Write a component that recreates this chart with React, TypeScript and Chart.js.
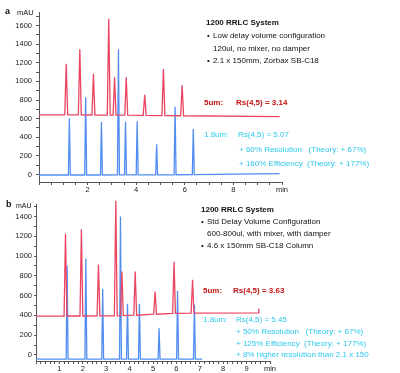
import React, { useEffect, useRef } from "react";
import { Chart, registerables } from "chart.js";
Chart.register(...registerables);

// ---------- Panel a data (1200 RRLC, low delay volume) ----------
const aRedTimes = [1.12, 1.68, 2.24, 2.87, 3.11, 3.59, 4.35, 5.12, 5.89];
const aRedHeights = [1190, 1345, 1083, 1673, 1044, 1047, 857, 1133, 961];
const aRedBases = [640, 640, 639, 638, 638, 637, 635, 633, 631];
const aRedSpan = [0, 9.9];
const aRedEnds = [640, 622];
const aRedTail: number[] = [];

const aBlueTimes = [1.25, 1.92, 2.57, 3.27, 3.56, 4.04, 4.84, 5.6, 6.35];
const aBlueHeights = [603, 829, 564, 1345, 567, 571, 324, 728, 489];
const aBlueBases = [-5, -5, -5, -4, -4, -4, -3, -2, -1];
const aBlueSpan = [0, 9.9];
const aBlueEnds = [-5, 10];
const aBlueTail: number[] = [];

const aXLabelValues = [2, 4, 6, 8, 10];
const aXLabels = ["2", "4", "6", "8", "min"];
const aYLabelValues = [0, 200, 400, 600, 800, 1000, 1200, 1400, 1600];

// ---------- Panel b data (1200 RRLC, std delay volume) ----------
const bRedTimes = [1.26, 1.94, 2.67, 3.41, 3.67, 4.24, 5.09, 5.9, 6.69];
const bRedHeights = [1227, 1271, 914, 1560, 843, 843, 642, 942, 761];
const bRedBases = [394, 394, 395, 396, 398, 402, 412, 420, 424];
const bRedSpan = [0, 9.5];
const bRedEnds = [392, 426];
const bRedTail = [9.52, 470];

const bBlueTimes = [1.33, 2.13, 2.85, 3.61, 3.91, 4.42, 5.26, 6.05, 6.77];
const bBlueHeights = [904, 972, 670, 1400, 517, 517, 269, 650, 507];
const bBlueBases = [-42, -42, -42, -42, -42, -42, -42, -42, -42];
const bBlueSpan = [0, 7.1];
const bBlueEnds = [-42, -42];
const bBlueTail: number[] = [];

const bXLabelValues = [1, 2, 3, 4, 5, 6, 7, 8, 9, 10];
const bXLabels = ["1", "2", "3", "4", "5", "6", "7", "8", "9", "min"];
const bYLabelValues = [0, 200, 400, 600, 800, 1000, 1200, 1400];

const RED = "rgb(234,70,98)";
const BLUE = "rgb(82,142,242)";
const FONT = "'Liberation Sans', Arial, sans-serif";

function buildTrace(
  times: number[],
  heights: number[],
  bases: number[],
  span: number[],
  ends: number[],
  tail: number[],
  hw: number
) {
  const pts: { x: number; y: number }[] = [{ x: span[0], y: ends[0] }];
  times.forEach((t, i) => {
    pts.push({ x: t - hw, y: bases[i] }, { x: t, y: heights[i] }, { x: t + hw, y: bases[i] });
  });
  pts.push({ x: span[1], y: ends[1] });
  if (tail.length === 2) pts.push({ x: tail[0], y: tail[1] });
  return pts;
}

type PanelCfg = {
  width: number;
  height: number;
  series: { data: { x: number; y: number }[]; color: string }[];
  padTop: number;
  padRight: number;
  xHeight: number;
  yWidth: number;
  yMin: number;
  yMax: number;
  xStep: number;
  yStep: number;
  xLabelValues: number[];
  xLabels: string[];
  yLabelValues: number[];
  yTickLen: number;
  yPad: number;
  xPad: number;
};

function makeConfig(p: PanelCfg): any {
  const xTicks: number[] = [];
  for (let i = 0; i <= Math.round(10 / p.xStep); i++) xTicks.push(+(i * p.xStep).toFixed(4));
  const yTicks: number[] = [];
  for (let v = Math.ceil(p.yMin / p.yStep) * p.yStep; v <= p.yMax; v += p.yStep) yTicks.push(v);
  const axisColor = "#555";
  return {
    type: "line",
    data: {
      datasets: p.series.map((s) => ({
        data: s.data,
        borderColor: s.color,
        borderWidth: 1.3,
        pointRadius: 0,
        tension: 0,
        fill: false,
        clip: false,
      })),
    },
    options: {
      animation: false,
      responsive: false,
      maintainAspectRatio: false,
      layout: { padding: { left: 0, right: p.padRight, top: p.padTop, bottom: 0 } },
      plugins: { legend: { display: false }, tooltip: { enabled: false } },
      scales: {
        x: {
          type: "linear",
          min: 0,
          max: 10,
          afterBuildTicks: (s: any) => {
            s.ticks = xTicks.map((v) => ({ value: v }));
          },
          afterFit: (s: any) => {
            s.height = p.xHeight;
          },
          ticks: {
            autoSkip: false,
            maxRotation: 0,
            padding: p.xPad,
            color: "#222",
            font: { size: 7.5, family: FONT },
            callback: (v: number) => {
              const i = p.xLabelValues.findIndex((l) => Math.abs(l - v) < 1e-6);
              return i >= 0 ? p.xLabels[i] : "";
            },
          },
          grid: { drawOnChartArea: false, drawTicks: true, tickLength: 3, color: axisColor },
          border: { display: true, color: axisColor, width: 1 },
        },
        y: {
          type: "linear",
          min: p.yMin,
          max: p.yMax,
          afterBuildTicks: (s: any) => {
            s.ticks = yTicks.map((v) => ({ value: v }));
          },
          afterFit: (s: any) => {
            s.width = p.yWidth;
          },
          ticks: {
            autoSkip: false,
            padding: p.yPad,
            color: "#222",
            font: { size: 7.5, family: FONT },
            callback: (v: number) => (p.yLabelValues.includes(v) ? String(v) : ""),
          },
          grid: { drawOnChartArea: false, drawTicks: true, tickLength: p.yTickLen, color: axisColor },
          border: { display: true, color: axisColor, width: 1 },
        },
      },
    },
  };
}

function ChartCanvas({ cfg, top }: { cfg: PanelCfg; top: number }) {
  const ref = useRef<HTMLCanvasElement>(null);
  useEffect(() => {
    if (!ref.current) return;
    const chart = new Chart(ref.current, makeConfig(cfg));
    return () => chart.destroy();
  }, []);
  return (
    <canvas
      ref={ref}
      width={cfg.width}
      height={cfg.height}
      style={{ position: "absolute", left: 0, top, width: cfg.width, height: cfg.height }}
    />
  );
}

const panelA: PanelCfg = {
  width: 400,
  height: 200,
  series: [
    { data: buildTrace(aRedTimes, aRedHeights, aRedBases, aRedSpan, aRedEnds, aRedTail, 0.06), color: RED },
    { data: buildTrace(aBlueTimes, aBlueHeights, aBlueBases, aBlueSpan, aBlueEnds, aBlueTail, 0.04), color: BLUE },
  ],
  padTop: 12,
  padRight: 118,
  xHeight: 18,
  yWidth: 39,
  yMin: -80,
  yMax: 1745,
  xStep: 0.5,
  yStep: 100,
  xLabelValues: aXLabelValues,
  xLabels: aXLabels,
  yLabelValues: aYLabelValues,
  yTickLen: 3,
  yPad: 4,
  xPad: 0,
};

const panelB: PanelCfg = {
  width: 400,
  height: 183,
  series: [
    { data: buildTrace(bRedTimes, bRedHeights, bRedBases, bRedSpan, bRedEnds, bRedTail, 0.06), color: RED },
    { data: buildTrace(bBlueTimes, bBlueHeights, bBlueBases, bBlueSpan, bBlueEnds, bBlueTail, 0.04), color: BLUE },
  ],
  padTop: 14,
  padRight: 130,
  xHeight: 12,
  yWidth: 36,
  yMin: -61,
  yMax: 1527,
  xStep: 0.2,
  yStep: 100,
  xLabelValues: bXLabelValues,
  xLabels: bXLabels,
  yLabelValues: bYLabelValues,
  yTickLen: 2,
  yPad: 2,
  xPad: 0,
};

type Txt = { x: number; y: number; text: string; size?: number; bold?: boolean; color?: string };

const DARKRED = "rgb(196,18,18)";
const CYAN = "rgb(44,200,236)";

const texts: Txt[] = [
  { x: 5, y: 11, text: "a", size: 9, bold: true },
  { x: 17, y: 12.5, text: "mAU", size: 7.5 },
  { x: 206, y: 23, text: "1200 RRLC System", bold: true },
  { x: 207, y: 36, text: "•" },
  { x: 213, y: 36, text: "Low delay volume configuration" },
  { x: 213, y: 49, text: "120ul, no mixer, no damper" },
  { x: 207, y: 61, text: "•" },
  { x: 213, y: 61, text: "2.1 x 150mm, Zorbax SB-C18" },
  { x: 204, y: 103, text: "5um:", bold: true, color: DARKRED },
  { x: 236, y: 103, text: "Rs(4,5) = 3.14", bold: true, color: DARKRED },
  { x: 204, y: 135, text: "1.8um:", color: CYAN },
  { x: 238, y: 135, text: "Rs(4,5) = 5.07", color: CYAN },
  { x: 239, y: 150, text: "+ 60% Resolution   (Theory: + 67%)", color: CYAN },
  { x: 239, y: 164, text: "+ 160% Efficiency  (Theory: + 177%)", color: CYAN },

  { x: 6, y: 204, text: "b", size: 9, bold: true },
  { x: 16, y: 204.5, text: "mAU", size: 7 },
  { x: 201, y: 209.5, text: "1200 RRLC System", bold: true },
  { x: 201, y: 222, text: "•" },
  { x: 207, y: 222, text: "Std Delay Volume Configuration" },
  { x: 207, y: 233.5, text: "600-800ul, with mixer, with damper" },
  { x: 201, y: 245.5, text: "•" },
  { x: 207, y: 245.5, text: "4.6 x 150mm SB-C18 Column" },
  { x: 203, y: 291, text: "5um:", bold: true, color: DARKRED },
  { x: 233, y: 291, text: "Rs(4,5) = 3.63", bold: true, color: DARKRED },
  { x: 203, y: 319.5, text: "1.8um:", color: CYAN },
  { x: 236, y: 319.5, text: "Rs(4,5) = 5.45", color: CYAN },
  { x: 236, y: 331.5, text: "+ 50% Resolution   (Theory: + 67%)", color: CYAN },
  { x: 236, y: 343.5, text: "+ 125% Efficiency  (Theory: + 177%)", color: CYAN },
  { x: 236, y: 354.5, text: "+ 8% higher resolution than 2.1 x 150", color: CYAN },
];

export default function App() {
  return (
    <div
      style={{
        position: "fixed",
        left: 0,
        top: 0,
        width: 400,
        height: 373,
        background: "#fff",
        overflow: "hidden",
        fontFamily: FONT,
      }}
    >
      <ChartCanvas cfg={panelA} top={0} />
      <ChartCanvas cfg={panelB} top={190} />
      {texts.map((t, i) => (
        <div
          key={i}
          style={{
            position: "absolute",
            left: t.x,
            top: t.y,
            transform: "translateY(-50%)",
            fontSize: t.size ?? 8,
            lineHeight: 1,
            fontWeight: t.bold ? 700 : 400,
            color: t.color ?? "#111",
            whiteSpace: "pre",
          }}
        >
          {t.text}
        </div>
      ))}
    </div>
  );
}
